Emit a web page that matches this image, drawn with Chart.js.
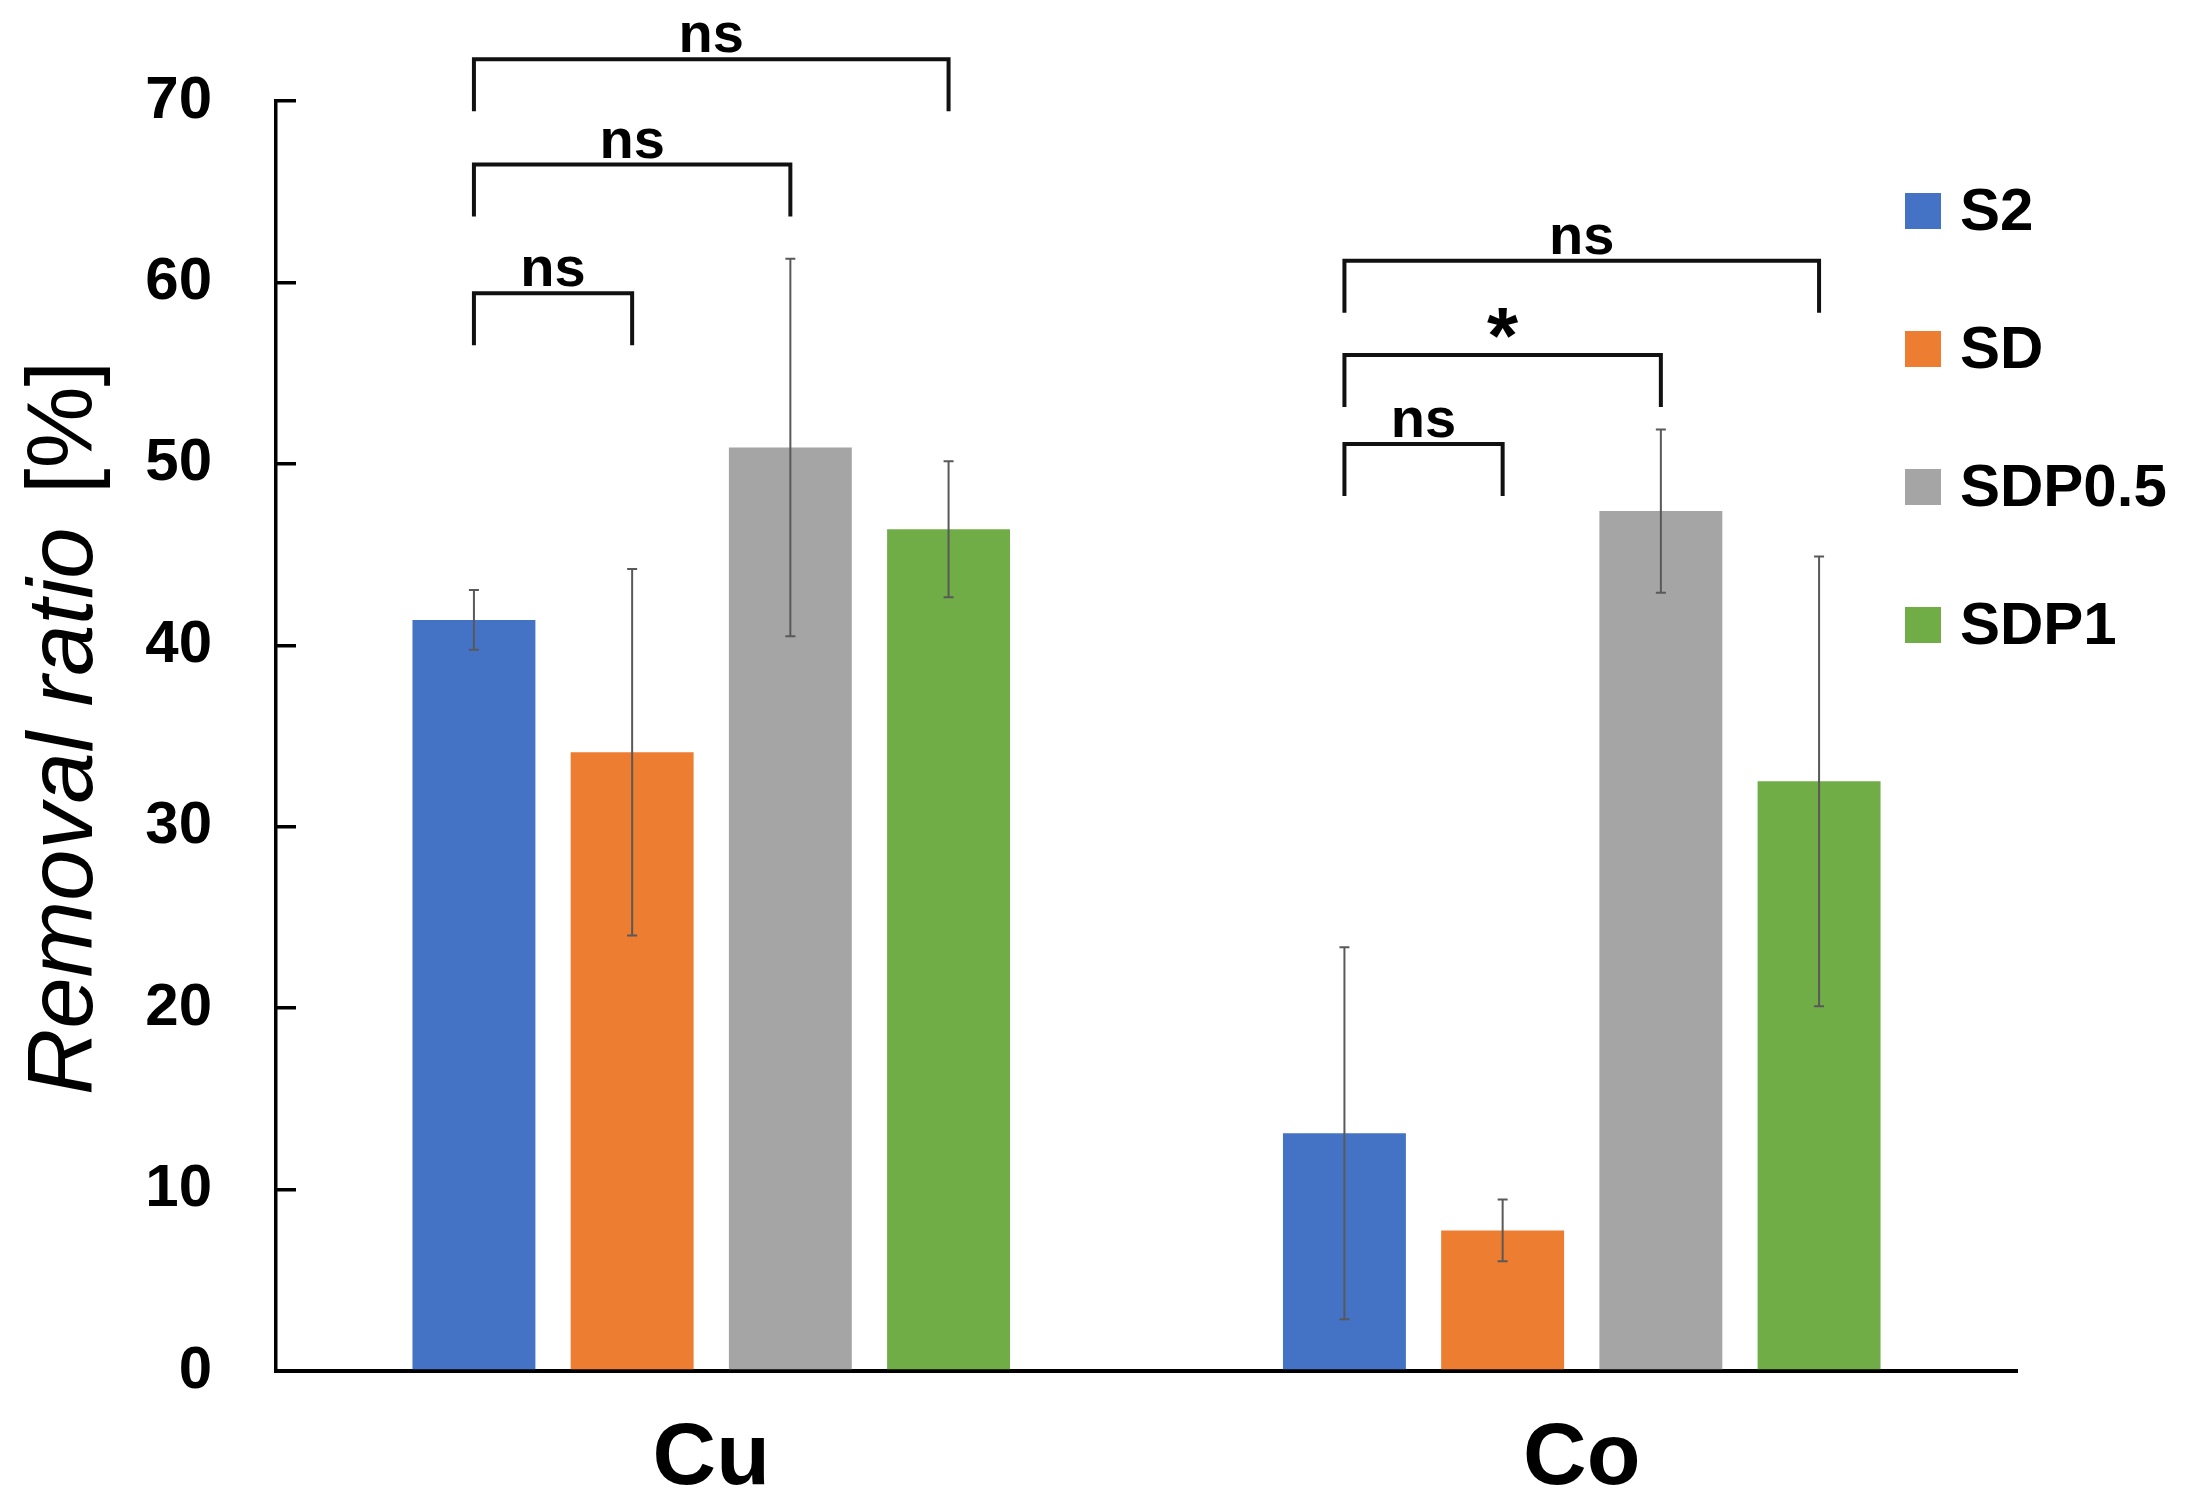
<!DOCTYPE html>
<html>
<head>
<meta charset="utf-8">
<script src="https://cdn.jsdelivr.net/npm/chart.js@4.4.1/dist/chart.umd.min.js"></script>
<style>
  html, body { margin: 0; padding: 0; background: #fff; }
  #wrap { width: 2195px; height: 1505px; }
</style>
</head>
<body>
<div id="wrap"><canvas id="removalChart" width="2195" height="1505"></canvas></div>
<script>
// values
const categories = ['Cu', 'Co'];
const seriesNames = ['S2', 'SD', 'SDP0.5', 'SDP1'];
const s2 = [41.4, 13.1];
const sd = [34.1, 7.75];
const sdp05 = [50.9, 47.4];
const sdp1 = [46.4, 32.5];
const s2Err = [1.65, 10.25];
const sdErr = [10.1, 1.7];
const sdp05Err = [10.4, 4.5];
const sdp1Err = [3.75, 12.4];
const yTicks = [0, 10, 20, 30, 40, 50, 60, 70];

// significance brackets: category, from series, to series, level (%), label
const bracketCat = [0, 0, 0, 1, 1, 1];
const bracketFrom = [0, 0, 0, 0, 0, 0];
const bracketTo = [1, 2, 3, 1, 2, 3];
const bracketLevel = [59.4, 66.5, 72.3, 51.1, 56.0, 61.2];
const bracketLabel = ['ns', 'ns', 'ns', 'ns', '*', 'ns'];

const colors = ['#4472C4', '#ED7D31', '#A5A5A5', '#70AD47'];
const FONT = "'Liberation Sans', Arial, sans-serif";

const errorBars = {
  id: 'errorBars',
  afterDatasetsDraw(chart) {
    const ctx = chart.ctx, y = chart.scales.y;
    ctx.save();
    ctx.strokeStyle = '#595959';
    ctx.lineWidth = 2;
    chart.data.datasets.forEach((ds, i) => {
      chart.getDatasetMeta(i).data.forEach((bar, j) => {
        const top = y.getPixelForValue(ds.data[j] + ds.errors[j]);
        const bot = y.getPixelForValue(ds.data[j] - ds.errors[j]);
        ctx.beginPath();
        ctx.moveTo(bar.x, top); ctx.lineTo(bar.x, bot);
        ctx.moveTo(bar.x - 5, top); ctx.lineTo(bar.x + 5, top);
        ctx.moveTo(bar.x - 5, bot); ctx.lineTo(bar.x + 5, bot);
        ctx.stroke();
      });
    });
    ctx.restore();
  }
};

const brackets = {
  id: 'brackets',
  afterDraw(chart) {
    const ctx = chart.ctx, y = chart.scales.y;
    ctx.save();
    ctx.strokeStyle = '#111';
    ctx.lineWidth = 4;
    ctx.fillStyle = '#000';
    ctx.textAlign = 'center';
    ctx.textBaseline = 'alphabetic';
    bracketLabel.forEach((lab, k) => {
      const x1 = chart.getDatasetMeta(bracketFrom[k]).data[bracketCat[k]].x;
      const x2 = chart.getDatasetMeta(bracketTo[k]).data[bracketCat[k]].x;
      const top = y.getPixelForValue(bracketLevel[k]);
      ctx.beginPath();
      ctx.moveTo(x1, top + 52); ctx.lineTo(x1, top); ctx.lineTo(x2, top); ctx.lineTo(x2, top + 52);
      ctx.stroke();
      if (lab === '*') {
        ctx.font = 'bold 80px ' + FONT;
        ctx.fillText(lab, (x1 + x2) / 2, top + 8);
      } else {
        ctx.font = 'bold 56px ' + FONT;
        ctx.fillText(lab, (x1 + x2) / 2, top - 7);
      }
    });
    ctx.restore();
  }
};

const sideLegend = {
  id: 'sideLegend',
  afterDraw(chart) {
    const ctx = chart.ctx, area = chart.chartArea;
    ctx.save();
    ctx.font = 'bold 60px ' + FONT;
    ctx.textAlign = 'left';
    ctx.textBaseline = 'middle';
    chart.data.datasets.forEach((ds, i) => {
      const cy = area.top + 110 + i * 138;
      const bx = area.right - 112;
      ctx.fillStyle = ds.backgroundColor;
      ctx.fillRect(bx, cy - 18, 36, 36);
      ctx.fillStyle = '#000';
      ctx.fillText(ds.label, bx + 55, cy + 2);
    });
    ctx.restore();
  }
};

const yTitle = {
  id: 'yTitle',
  afterDraw(chart) {
    const ctx = chart.ctx, area = chart.chartArea;
    const italicPart = 'Removal ratio', plainPart = ' [%]';
    ctx.save();
    ctx.translate(66, (area.top + area.bottom) / 2 - 8);
    ctx.rotate(-Math.PI / 2);
    ctx.textBaseline = 'middle';
    ctx.textAlign = 'left';
    ctx.fillStyle = '#000';
    ctx.font = 'italic 92px ' + FONT;
    const w1 = ctx.measureText(italicPart).width;
    ctx.font = '92px ' + FONT;
    const w2 = ctx.measureText(plainPart).width;
    const start = -(w1 + w2 + 8) / 2;
    ctx.font = 'italic 92px ' + FONT;
    ctx.fillText(italicPart, start, 0);
    ctx.font = '92px ' + FONT;
    ctx.fillText(plainPart, start + w1 + 8, 0);
    ctx.restore();
  }
};

const values = [s2, sd, sdp05, sdp1];
const errs = [s2Err, sdErr, sdp05Err, sdp1Err];

const ctx = document.getElementById('removalChart').getContext('2d');
const removalChart = new Chart(ctx, {
  type: 'bar',
  data: {
    labels: categories,
    datasets: seriesNames.map((name, i) => ({
      label: name,
      data: values[i],
      errors: errs[i],
      backgroundColor: colors[i],
      borderWidth: 0,
      categoryPercentage: 0.727,
      barPercentage: 0.777
    }))
  },
  options: {
    responsive: false,
    devicePixelRatio: 1,
    animation: false,
    layout: { padding: { top: 101, right: 178, bottom: 0, left: 0 } },
    plugins: {
      legend: { display: false },
      tooltip: { enabled: false }
    },
    scales: {
      x: {
        z: 1,
        grid: { display: false },
        border: { color: '#000', width: 4 },
        ticks: { color: '#000', padding: 28, font: { family: FONT, size: 88, weight: 'bold' } },
        afterFit(s) { s.height = 134; }
      },
      y: {
        min: 0,
        max: 70,
        afterBuildTicks(s) { s.ticks = yTicks.map(v => ({ value: v })); },
        grid: { drawOnChartArea: false, drawTicks: true, tickLength: -20, color: '#000', lineWidth: 3.5 },
        border: { color: '#000', width: 3.5 },
        ticks: { color: '#000', padding: 84, font: { family: FONT, size: 60, weight: 'bold' } },
        afterFit(s) { s.width = 276; s.paddingTop = 0; s.paddingBottom = 0; }
      }
    }
  },
  plugins: [errorBars, brackets, sideLegend, yTitle]
});
</script>
</body>
</html>
